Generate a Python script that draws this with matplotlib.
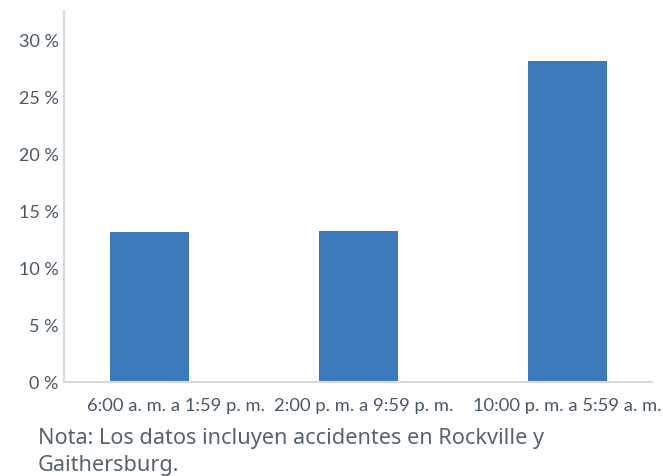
import matplotlib.pyplot as plt
from matplotlib.ticker import FuncFormatter

# data
categories = ['6:00 a. m. a 1:59 p. m.', '2:00 p. m. a 9:59 p. m.', '10:00 p. m. a 5:59 a. m.']
values = [13.1, 13.2, 28.1]
yticks = [0, 5, 10, 15, 20, 25, 30]
note = 'Nota: Los datos incluyen accidentes en Rockville y\nGaithersburg.'

text_color = '#4a5866'
bar_color = '#3b7bbb'

fig = plt.figure(figsize=(6.63, 4.77), dpi=100)
ax = fig.add_axes([64 / 663, 1 - 383 / 477, (652 - 64) / 663, (383 - 12) / 477])

x = list(range(len(categories)))
ax.bar(x, values, width=0.378, color=bar_color)

ax.set_xlim(-0.409, 2.404)
ax.set_ylim(0, 32.45)
ax.set_yticks(yticks)
ax.yaxis.set_major_formatter(FuncFormatter(lambda v, p: f'{v:.0f} %'))
# labels sit slightly off-centre in the reference (no visible tick marks)
ax.set_xticks([0.127, 1.026, 2.0])
ax.set_xticklabels(categories)

for s in ['top', 'right']:
    ax.spines[s].set_visible(False)
for s in ['left', 'bottom']:
    ax.spines[s].set_color('#d9d9d9')
    ax.spines[s].set_linewidth(1.5)

ax.tick_params(axis='y', length=0, pad=4, labelsize=13, labelcolor=text_color)
ax.tick_params(axis='x', length=0, pad=11, labelsize=13.2, labelcolor=text_color)
for lbl in ax.get_xticklabels() + ax.get_yticklabels():
    lbl.set_family('Lato')

fig.text(38 / 663, 1 - 428 / 477, note, fontsize=15.6, color='#56636f',
         family='Noto Sans', va='top', linespacing=1.4)

fig.savefig('out.png', dpi=100)
